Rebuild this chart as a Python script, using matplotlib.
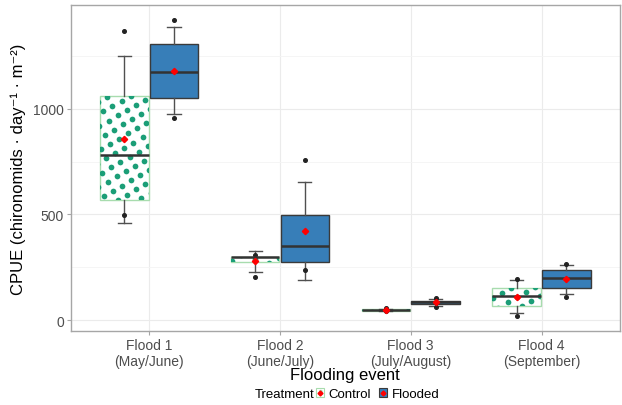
"""CPUE by flooding event, control vs flooded boxplots."""
import numpy as np
import matplotlib

matplotlib.use("Agg")
import matplotlib.pyplot as plt
from matplotlib.patches import Patch
from matplotlib.lines import Line2D
from matplotlib.legend_handler import HandlerTuple

plt.rcParams["font.family"] = ["Liberation Sans", "DejaVu Sans"]

events = ["Flood 1\n(May/June)", "Flood 2\n(June/July)", "Flood 3\n(July/August)", "Flood 4\n(September)"]
treatments = ["Control", "Flooded"]

# per event: [Control, Flooded]
whislo = [[460, 976], [229, 191], [43, 65], [33, 123]]
q1 = [[569, 1051], [275, 276], [44, 76], [68, 153]]
med = [[781, 1177], [300, 349], [48, 84], [112, 199]]
q3 = [[1063, 1308], [300, 498], [50, 89], [150, 238]]
whishi = [[1253, 1387], [326, 654], [53, 100], [188, 261]]
means = [[856, 1182], [280, 423], [49, 84], [109, 193]]
points = [
    [[1371, 498], [1422, 956]],
    [[309, 205], [758, 238]],
    [[58, 41], [104, 62]],
    [[194, 18], [265, 108]],
]

GREEN = "#1B9E77"
BLUE = "#377EB8"

fig = plt.figure(figsize=(6.22, 4.06), dpi=100)
ax = fig.add_axes([70.7 / 622, 1 - 332 / 406, (620 - 70.7) / 622, (332 - 6.3) / 406])

width = 0.37
offsets = [-0.19, 0.19]
ctrl_boxes = []
for t, off in enumerate(offsets):
    stats = []
    for i in range(len(events)):
        stats.append(dict(med=med[i][t], q1=q1[i][t], q3=q3[i][t], whislo=whislo[i][t],
                          whishi=whishi[i][t], mean=means[i][t], fliers=points[i][t]))
    pos = np.arange(1, len(events) + 1) + off
    if t == 0:
        boxprops = dict(facecolor="white", edgecolor="#A8DCAE", lw=1.0)
    else:
        boxprops = dict(facecolor=BLUE, edgecolor="#3A3A3A", lw=1.0)
    bp = ax.bxp(stats, positions=pos, widths=width, patch_artist=True, showmeans=True,
                manage_ticks=False,
                boxprops=boxprops,
                medianprops=dict(color="#333333", lw=1.8),
                whiskerprops=dict(color="#505050", lw=1.0),
                capprops=dict(color="#505050", lw=1.0),
                capwidths=width * 0.27,
                meanprops=dict(marker="D", markersize=3.2, markerfacecolor="red", markeredgecolor="red"),
                flierprops=dict(marker="o", markersize=2.6, markerfacecolor="#222222",
                                markeredgecolor="#222222"))
    if t == 0:
        ctrl_boxes = list(zip(bp["boxes"], pos, [s["q1"] for s in stats], [s["q3"] for s in stats]))
        for ln in bp["medians"]:
            ln.set_zorder(3.5)
        for ln in bp["means"]:
            ln.set_zorder(3.6)

ax.set_xlim(0.4, 4.6)
ax.set_ylim(-52, 1491)

# grid
ax.set_yticks([0, 500, 1000])
ax.set_yticks([250, 750, 1250], minor=True)
ax.set_xticks(np.arange(1, len(events) + 1))
ax.set_xticklabels(events)
ax.grid(which="major", color="#EBEBEB", lw=0.8)
ax.grid(which="minor", axis="y", color="#F4F4F4", lw=0.6)
ax.set_axisbelow(True)
for s in ax.spines.values():
    s.set_color("#A6A6A6")
    s.set_linewidth(1.0)
ax.tick_params(which="major", length=3, color="#A6A6A6", labelcolor="#4D4D4D", labelsize=10, pad=2)
ax.tick_params(which="minor", length=0)

# dot pattern inside control boxes (rotated lattice in pixel space)
spacing = 10.5
ang = np.deg2rad(30)
a = spacing * np.array([np.cos(ang), np.sin(ang)])
b = spacing * np.array([-np.sin(ang), np.cos(ang)])
for box, x, lo, hi in ctrl_boxes:
    (x0, y0), (x1, y1) = ax.transData.transform([(x - width / 2, lo), (x + width / 2, hi)])
    cx, cy = (x0 + x1) / 2, (y0 + y1) / 2
    n = int(max(x1 - x0, y1 - y0) / spacing) + 3
    ii, jj = np.meshgrid(np.arange(-n, n + 1), np.arange(-n, n + 1))
    px = cx + ii.ravel() * a[0] + jj.ravel() * b[0]
    py = cy + ii.ravel() * a[1] + jj.ravel() * b[1]
    keep = (px > x0 - 4) & (px < x1 + 4) & (py > y0 - 4) & (py < y1 + 4)
    pts = ax.transData.inverted().transform(np.column_stack([px[keep], py[keep]]))
    sc = ax.scatter(pts[:, 0], pts[:, 1], s=17, color=GREEN, lw=0, zorder=3.2)
    sc.set_clip_path(box)

ax.set_ylabel("CPUE (chironomids · day⁻¹ · m⁻²)", fontsize=12, labelpad=5)
ax.set_xlabel("Flooding event", fontsize=12, labelpad=-1)

# legend
fig.text(255 / 622, 1 - 395 / 406, "Treatment", fontsize=9.5, va="center", ha="left")
plt.rcParams["hatch.color"] = GREEN
plt.rcParams["hatch.linewidth"] = 1.5
h_ctrl = (Patch(facecolor="white", edgecolor="#A8DCAE", hatch="..", lw=0.8),
          Line2D([], [], marker="D", ms=2.5, color="red", lw=0))
h_fl = (Patch(facecolor=BLUE, edgecolor="#3A3A3A", lw=0.8),
        Line2D([], [], marker="D", ms=2.5, color="red", lw=0))
fig.legend([h_ctrl, h_fl], treatments, loc="center left",
           bbox_to_anchor=(316 / 622, 1 - 395 / 406), ncol=2, frameon=False, fontsize=9.5,
           handler_map={tuple: HandlerTuple(ndivide=1, pad=0)},
           handlelength=0.6, handleheight=0.6, handletextpad=0.35, columnspacing=0.6,
           borderpad=0, borderaxespad=0)

fig.savefig("out.png", dpi=100)
